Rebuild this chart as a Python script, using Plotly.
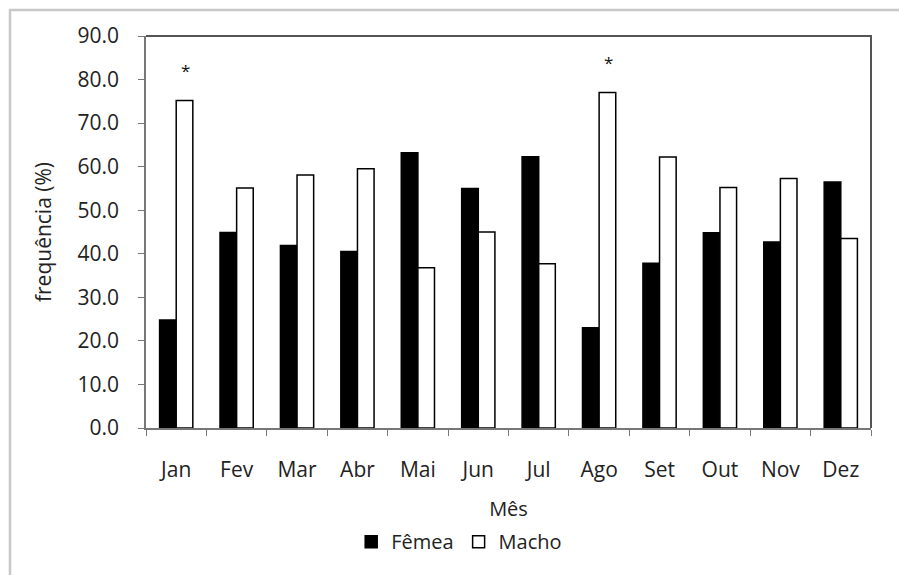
import plotly.graph_objects as go

# Data
meses = ['Jan', 'Fev', 'Mar', 'Abr', 'Mai', 'Jun', 'Jul', 'Ago', 'Set', 'Out', 'Nov', 'Dez']
femea = [24.8, 44.9, 41.9, 40.5, 63.2, 55.0, 62.3, 23.0, 37.8, 44.8, 42.7, 56.5]
macho = [75.2, 55.1, 58.1, 59.5, 36.8, 45.0, 37.7, 77.0, 62.2, 55.2, 57.3, 43.5]
destaque = ['Jan', 'Ago']  # meses com diferença significativa (*)
asterisco_y = [82.0, 84.0]

font = dict(family='Open Sans, Liberation Sans, sans-serif', size=21, color='#222')

fig = go.Figure()
fig.add_trace(go.Bar(x=meses, y=femea, name='Fêmea',
                     marker=dict(color='black', line=dict(color='black', width=1.5))))
fig.add_trace(go.Bar(x=meses, y=macho, name='Macho',
                     marker=dict(color='white', line=dict(color='black', width=1.5))))

for m, yv in zip(destaque, asterisco_y):
    fig.add_annotation(x=m, y=yv, text='*', showarrow=False, xshift=9,
                       font=dict(family='Open Sans, sans-serif', size=17, color='#111'))

# outer chart border
fig.add_shape(type='rect', xref='paper', yref='paper',
              x0=(10 - 146) / 725, x1=1.2, y0=-0.5, y1=(428 - 10) / 392,
              line=dict(color='#c8c8c8', width=2.5), layer='below')

fig.update_layout(
    width=899, height=575,
    margin=dict(l=146, r=28, t=36, b=147),
    paper_bgcolor='white', plot_bgcolor='white',
    font=font,
    barmode='group', bargap=0.45, bargroupgap=0,
    showlegend=True,
    legend=dict(orientation='h', x=0.432, xanchor='center', y=-0.29, yanchor='middle',
                font=dict(size=20), tracegroupgap=0),
    xaxis=dict(title=dict(text='Mês', standoff=20, font=dict(size=20)), tickson='boundaries',
               ticks='outside', ticklen=6, tickcolor='#777', showline=True, linecolor='#777',
               linewidth=1.5, mirror=False, showgrid=False, ticklabelstandoff=22),
    yaxis=dict(title=dict(text='frequência (%)', standoff=20, font=dict(size=21)), range=[0, 90],
               dtick=10, tickformat='.1f', ticks='outside', ticklen=6, tickcolor='#777',
               showline=True, linecolor='#777', linewidth=1.5, showgrid=False, zeroline=False,
               ticklabelstandoff=15),
)
# top/right frame of plot area
fig.add_shape(type='path', xref='paper', yref='paper',
              path='M 0,1 L 1,1 L 1,0', line=dict(color='#555', width=2))

fig.write_html('out.html', config={'displayModeBar': False},
               post_script="document.body.style.margin='0';")
